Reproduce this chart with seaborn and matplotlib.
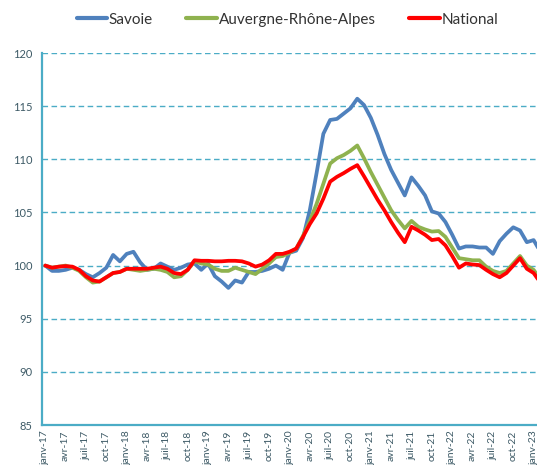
import pandas as pd
import matplotlib
matplotlib.use('Agg')
import matplotlib.pyplot as plt
import seaborn as sns

# Indices mensuels (base 100 = janv-17)
mois_fr = ['janv', 'févr', 'mars', 'avr', 'mai', 'juin',
           'juil', 'août', 'sept', 'oct', 'nov', 'déc']
mois = [f"{mois_fr[k % 12]}-{17 + k // 12}" for k in range(74)]

savoie = [100.0, 99.5, 99.5, 99.6, 99.8, 99.6, 99.2, 98.9, 99.3, 99.8,
          101.0, 100.4, 101.1, 101.3, 100.3, 99.6, 99.7, 100.2, 99.9, 99.6,
          99.8, 100.1, 100.2, 99.6, 100.2, 99.0, 98.5, 97.9, 98.6, 98.4,
          99.4, 99.4, 99.5, 99.7, 100.0, 99.6, 101.2, 101.4, 102.6, 105.2,
          108.7, 112.4, 113.7, 113.8, 114.3, 114.8, 115.7, 115.1, 113.9, 112.3,
          110.5, 109.0, 107.8, 106.6, 108.3, 107.5, 106.6, 105.1, 104.9, 104.1,
          102.9, 101.6, 101.8, 101.8, 101.7, 101.7, 101.1, 102.3, 103.0, 103.6,
          103.3, 102.2, 102.4, 101.3]

aura = [100.0, 99.8, 99.9, 100.0, 99.8, 99.5, 98.9, 98.4, 98.5, 98.9,
        99.3, 99.4, 99.7, 99.6, 99.5, 99.6, 99.7, 99.6, 99.4, 98.9,
        99.0, 99.6, 100.4, 100.2, 100.1, 99.7, 99.5, 99.5, 99.8, 99.6,
        99.4, 99.2, 99.7, 100.2, 100.8, 100.9, 101.2, 101.6, 102.8, 104.2,
        105.8, 107.7, 109.6, 110.1, 110.4, 110.8, 111.3, 110.1, 108.8, 107.6,
        106.4, 105.2, 104.3, 103.5, 104.2, 103.65, 103.4, 103.2, 103.25, 102.7,
        101.7, 100.7, 100.6, 100.5, 100.5, 99.9, 99.5, 99.3, 99.5, 100.2,
        100.9, 100.0, 99.6, 98.7]

national = [100.0, 99.8, 99.9, 99.95, 99.9, 99.6, 99.0, 98.6, 98.5, 98.9,
            99.3, 99.4, 99.7, 99.7, 99.7, 99.7, 99.8, 99.9, 99.7, 99.3,
            99.2, 99.6, 100.5, 100.45, 100.45, 100.4, 100.4, 100.45, 100.45, 100.4,
            100.2, 99.9, 100.1, 100.5, 101.1, 101.1, 101.3, 101.6, 102.7, 103.9,
            104.9, 106.3, 107.9, 108.35, 108.7, 109.1, 109.45, 108.4, 107.3, 106.2,
            105.2, 104.1, 103.1, 102.2, 103.65, 103.3, 102.9, 102.4, 102.5, 101.9,
            100.9, 99.8, 100.2, 100.1, 100.05, 99.6, 99.2, 98.9, 99.3, 100.0,
            100.7, 99.7, 99.3, 98.4]

series = ['Savoie', 'Auvergne-Rhône-Alpes', 'National']
couleurs = ['#4f81bd', '#8fb24f', '#ff0000']

df = pd.DataFrame({'Savoie': savoie, 'Auvergne-Rhône-Alpes': aura, 'National': national})
df['idx'] = range(len(mois))
df_long = df.melt(id_vars='idx', var_name='Série', value_name='Indice')

sns.set_style('white')
plt.rcParams['font.family'] = ['Lato', 'DejaVu Sans']

teal = '#4bacc6'
texte = '#3d5a66'

fig = plt.figure(figsize=(5.37, 4.65), dpi=100)
ax = fig.add_axes([0.078, 0.086, 0.922, 0.800])

sns.lineplot(data=df_long, x='idx', y='Indice', hue='Série', hue_order=series,
             palette=couleurs, linewidth=2.7, ax=ax, legend=False)

# Grille et axes
ax.set_ylim(85, 120)
ax.set_yticks(range(85, 121, 5))
for v in range(90, 121, 5):
    ax.axhline(v, color=teal, lw=1.0, ls=(0, (4, 2.5)), zorder=0)
ax.set_xlim(-0.5, 72.5)
ax.set_xticks(range(0, 73, 3))
ax.set_xticklabels([mois[k] for k in range(0, 73, 3)], rotation=90)
ax.set_xticks([k - 0.5 for k in range(0, 73, 3)], minor=True)
ax.tick_params(axis='x', which='major', length=0, labelsize=7.5, labelcolor=texte, pad=4)
ax.tick_params(axis='x', which='minor', length=4, width=1.2, color=teal, direction='out')
ax.tick_params(axis='y', length=4, width=1.2, color=teal, labelsize=8, labelcolor=texte, pad=3)
ax.set_xlabel('')
ax.set_ylabel('')
for s in ['top', 'right']:
    ax.spines[s].set_visible(False)
for s in ['left', 'bottom']:
    ax.spines[s].set_color(teal)
    ax.spines[s].set_linewidth(1.6)

# Légende en haut
handles = [plt.Line2D([], [], color=c, lw=3) for c in couleurs]
fig.legend(handles, series, loc='center', bbox_to_anchor=(0.535, 0.958), ncol=3,
           frameon=False, fontsize=11, handlelength=2.0, handletextpad=0.1,
           columnspacing=2.2, labelcolor='#333333')

fig.savefig('out.png', dpi=100)
